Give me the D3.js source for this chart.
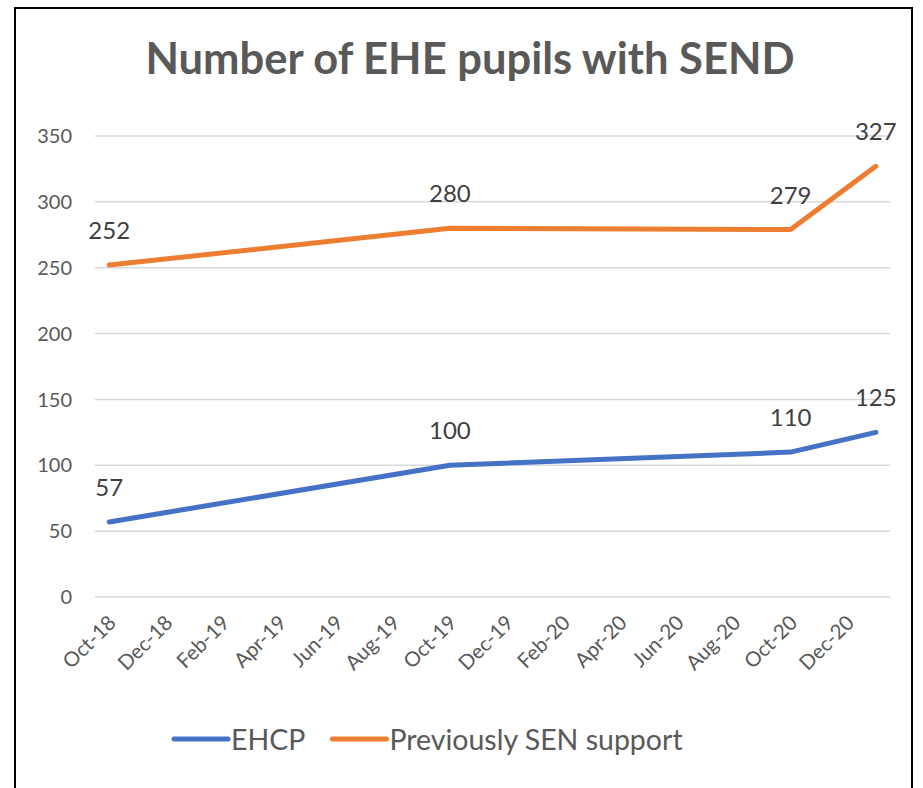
<!DOCTYPE html>
<html>
<head>
<meta charset="utf-8">
<script src="https://cdn.jsdelivr.net/npm/d3@7"></script>
<style>
  body { margin: 0; background: #fff; }
  text { font-family: Lato, "Open Sans", sans-serif; }
</style>
</head>
<body>
<div id="chart"></div>
<script>
// data
var dates = ["2018-10", "2019-10", "2020-10", "2021-01"];
var ehcp = [57, 100, 110, 125];
var senSupport = [252, 280, 279, 327];
var seriesNames = ["EHCP", "Previously SEN support"];
var seriesColors = ["#4472C4", "#ED7D31"];
var yTicks = [0, 50, 100, 150, 200, 250, 300, 350];
var chartTitle = "Number of EHE pupils with SEND";

var width = 923, height = 788;
var margin = {top: 136, right: 33, bottom: 191, left: 95};

var svg = d3.select("#chart").append("svg")
    .attr("width", width)
    .attr("height", height);

// outer frame
svg.append("rect")
    .attr("x", 15).attr("y", 8)
    .attr("width", 897).attr("height", 800)
    .attr("fill", "none")
    .attr("stroke", "#000")
    .attr("stroke-width", 2);

svg.append("text")
    .attr("x", 470).attr("y", 74)
    .attr("text-anchor", "middle")
    .attr("font-size", 43.5)
    .attr("font-weight", "bold")
    .attr("fill", "#595959")
    .text(chartTitle);

var parseMonth = d3.timeParse("%Y-%m");
var fmtMonth = d3.timeFormat("%b-%y");
var first = parseMonth(dates[0]);
var last = parseMonth(dates[dates.length - 1]);
var months = d3.timeMonth.range(first, d3.timeMonth.offset(last, 1));

var x = d3.scalePoint()
    .domain(months.map(fmtMonth))
    .range([margin.left, width - margin.right])
    .padding(0.5);

var y = d3.scaleLinear()
    .domain([0, 350])
    .range([height - margin.bottom, margin.top]);

// gridlines
svg.append("g").selectAll("line")
    .data(yTicks)
    .enter().append("line")
    .attr("x1", margin.left)
    .attr("x2", width - margin.right)
    .attr("y1", function(d){ return y(d); })
    .attr("y2", function(d){ return y(d); })
    .attr("stroke", "#D9D9D9")
    .attr("stroke-width", 1.5);

svg.append("g").selectAll("text")
    .data(yTicks)
    .enter().append("text")
    .attr("x", 72)
    .attr("y", function(d){ return y(d); })
    .attr("dy", "0.36em")
    .attr("text-anchor", "end")
    .attr("font-size", 20)
    .attr("fill", "#595959")
    .text(function(d){ return d; });

// x labels every 2 months
var xLabels = months.filter(function(d, i){ return i % 2 == 0; }).map(fmtMonth);
svg.append("g").selectAll("text")
    .data(xLabels)
    .enter().append("text")
    .attr("transform", function(d){ return "translate(" + (x(d) + 8) + "," + 624 + ") rotate(-45)"; })
    .attr("text-anchor", "end")
    .attr("font-size", 20.5)
    .attr("fill", "#595959")
    .text(function(d){ return d; });

var line = d3.line()
    .x(function(d){ return x(d.m); })
    .y(function(d){ return y(d.v); });

[ehcp, senSupport].forEach(function(vals, k){
    var pts = vals.map(function(v, i){ return {m: fmtMonth(parseMonth(dates[i])), v: v}; });
    svg.append("path")
        .datum(pts)
        .attr("d", line)
        .attr("fill", "none")
        .attr("stroke", seriesColors[k])
        .attr("stroke-width", 5)
        .attr("stroke-linecap", "round")
        .attr("stroke-linejoin", "round");
    svg.append("g").selectAll("text")
        .data(pts)
        .enter().append("text")
        .attr("x", function(d){ return x(d.m); })
        .attr("y", function(d){ return y(d.v) - 26; })
        .attr("text-anchor", "middle")
        .attr("font-size", 24)
        .attr("fill", "#404040")
        .text(function(d){ return d.v; });
});

// legend
var lx = 174;
seriesNames.forEach(function(name, k){
    svg.append("line")
        .attr("x1", lx).attr("x2", lx + 54)
        .attr("y1", 739).attr("y2", 739)
        .attr("stroke", seriesColors[k])
        .attr("stroke-width", 5)
        .attr("stroke-linecap", "round");
    var t = svg.append("text")
        .attr("x", lx + 57).attr("y", 750)
        .attr("font-size", 28.5)
        .attr("fill", "#595959")
        .text(name);
    lx += 57 + t.node().getComputedTextLength() + 27;
});
</script>
</body>
</html>
